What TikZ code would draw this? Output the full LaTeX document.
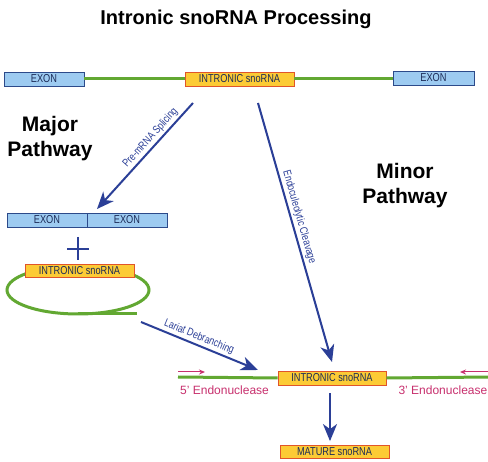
\documentclass[tikz,border=0pt]{standalone}
\usepackage{fontspec}
\setmainfont{Liberation Sans}
\newfontfamily\narrowfont[FakeStretch=0.8]{Liberation Sans}
\definecolor{exonblue}{HTML}{9DCBF1}
\definecolor{exonline}{HTML}{2C4A8A}
\definecolor{snogold}{HTML}{FCCB35}
\definecolor{snoline}{HTML}{E0552A}
\definecolor{rnagreen}{HTML}{62A832}
\definecolor{navy}{HTML}{2B3F97}
\definecolor{boxtext}{HTML}{1C2B57}
\definecolor{nucpink}{HTML}{C8306E}
\usetikzlibrary{arrows.meta,positioning}

\begin{document}
\begin{tikzpicture}[x=1pt,y=-1pt,
  exon/.style={draw=exonline,fill=exonblue,line width=0.8pt,minimum width=80pt,minimum height=14pt,inner sep=0pt,text=boxtext,font=\narrowfont\fontsize{11.5}{12}\selectfont},
  sno/.style={draw=snoline,fill=snogold,line width=0.8pt,minimum width=109pt,minimum height=14pt,inner sep=0pt,text=boxtext,font=\narrowfont\fontsize{11.5}{12}\selectfont},
  rna/.style={rnagreen,line width=3pt},
  bigarrow/.style={navy,line width=2pt,-{Stealth[length=17pt,width=14pt,inset=5pt]}},
  steplabel/.style={font=\narrowfont\fontsize{11}{12}\selectfont,inner sep=2pt},
  pathlabel/.style={font=\bfseries\fontsize{21}{25}\selectfont,align=center},
  endolabel/.style={text=nucpink,font=\fontsize{12}{14}\selectfont,inner sep=0pt},
  endoarrow/.style={nucpink,line width=1pt,-{Stealth[length=6pt,width=5pt]}}]
  \useasboundingbox[fill=white] (0,0) rectangle (488,462);

  % Title
  \node[font=\bfseries\fontsize{20}{24}\selectfont] (title) at (236,19) {Intronic snoRNA Processing};

  % Pre-mRNA
  \node[exon] (exonL) at (44,79) {EXON};
  \node[sno] (snoTop) at (239.5,79) {INTRONIC snoRNA};
  \node[exon,minimum width=81pt] (exonR) at (433.5,78) {EXON};
  \draw[rna] (exonL.east) -- (snoTop.west);
  \draw[rna] (snoTop.east) -- (exonR.west |- snoTop.east);

  \node[pathlabel] (major) at (50,139) {Major\\Pathway};
  \node[pathlabel] (minor) at (405,186) {Minor\\Pathway};

  % Major: splicing
  \coordinate (spliceStart) at (193,103);
  \coordinate (spliceEnd) at (97,209);
  \draw[bigarrow] (spliceStart) -- node[steplabel,sloped,above,pos=0.38] {Pre-mRNA Splicing} (spliceEnd);

  \node[exon] (exonA) at (47,220) {EXON};
  \node[exon] (exonB) at (127,220) {EXON};
  \draw[navy,line width=1.5pt] (78,237) -- (78,260) (67,249) -- (89,249);

  % Lariat
  \draw[rna] (78,290) ellipse (71pt and 24pt);
  \draw[rna] (78,314) -- (137,314);
  \node[sno,minimum height=13pt] (snoLariat) at (79.5,271) {INTRONIC snoRNA};

  \coordinate (lariatStart) at (141,322);
  \coordinate (lariatEnd) at (258,370);
  \draw[bigarrow] (lariatStart) -- node[steplabel,sloped,above,pos=0.47] {Lariat Debranching} (lariatEnd);

  % Minor: endonucleolytic cleavage
  \coordinate (cleaveStart) at (258,103);
  \coordinate (cleaveEnd) at (332,362);
  \draw[bigarrow] (cleaveStart) -- node[steplabel,sloped,above,pos=0.45] {Endoculeolytic Cleavage} (cleaveEnd);

  % Exonucleolytic trimming
  \node[sno,minimum width=108pt] (snoBottom) at (332,378) {INTRONIC snoRNA};
  \draw[rna] (178,377) -- (snoBottom.west);
  \draw[rna] (snoBottom.east) -- (490,377);
  \draw[endoarrow] (178,372) -- (205,372);
  \draw[endoarrow] (490,372) -- (460,372);
  \node[endolabel,anchor=west] (fiveEndo) at (180,390) {5' Endonuclease};
  \node[endolabel,anchor=east] (threeEndo) at (487.5,390) {3' Endonuclease};

  \node[sno,minimum height=13pt] (snoMature) at (334.5,452) {MATURE snoRNA};
  \draw[bigarrow] ([xshift=-2pt,yshift=-8pt]snoBottom.south) -- ([xshift=-4.5pt,yshift=4pt]snoMature.north);
\end{tikzpicture}
\end{document}
